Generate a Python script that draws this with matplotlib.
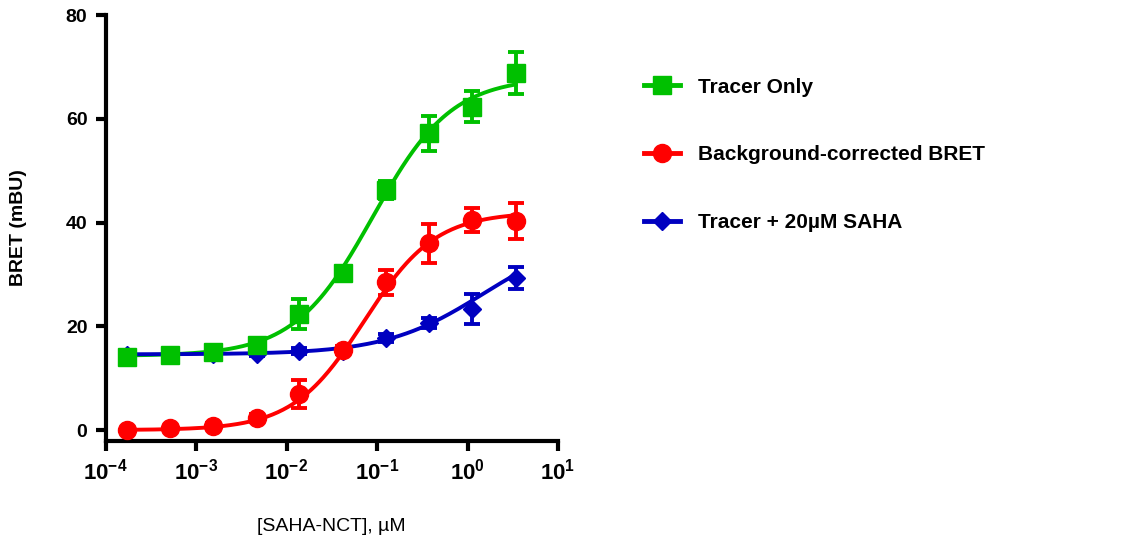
import numpy as np
import matplotlib
matplotlib.use("Agg")
import matplotlib.pyplot as plt
from matplotlib.lines import Line2D

plt.rcParams['font.family'] = ['Liberation Sans', 'DejaVu Sans']
plt.rcParams['mathtext.fontset'] = 'custom'
plt.rcParams['mathtext.bf'] = 'Liberation Sans:bold'
plt.rcParams['mathtext.rm'] = 'Liberation Sans'

# concentrations (uM), 3-fold dilution series
conc = [0.000173, 0.000518, 0.00155, 0.00466, 0.0139, 0.042, 0.126, 0.378, 1.13, 3.4]

tracer_only = [14.1, 14.5, 15.0, 16.4, 22.4, 30.3, 46.3, 57.2, 62.3, 68.8]
tracer_only_err = [0.6, 0.6, 0.8, 1.0, 2.9, 1.2, 1.8, 3.4, 3.0, 4.0]

bg_corrected = [0.0, 0.4, 0.8, 2.3, 6.9, 15.4, 28.5, 36.0, 40.5, 40.3]
bg_corrected_err = [0.4, 0.4, 0.5, 0.8, 2.7, 0.8, 2.4, 3.7, 2.3, 3.5]

tracer_saha = [14.5, 14.5, 14.6, 14.6, 15.2, 15.3, 17.7, 20.6, 23.3, 29.3]
tracer_saha_err = [0.4, 0.4, 0.4, 0.4, 0.6, 0.6, 0.8, 1.0, 2.9, 2.2]

# sigmoidal dose-response fit parameters: bottom, top, EC50 (uM), hill slope
fit_tracer_only = (14.3, 68.0, 0.09, 1.0)
fit_bg_corrected = (0.0, 42.0, 0.072, 1.1)
fit_tracer_saha = (14.6, 38.0, 1.5, 0.8)

labels = ['Tracer Only', 'Background-corrected BRET', 'Tracer + 20\u00b5M SAHA']
colors = ['#00c000', '#ff0000', '#0000c0']
markers = ['s', 'o', 'D']
msizes = [13, 13, 9]
zorders = [5, 4, 3]

series = [(tracer_only, tracer_only_err, fit_tracer_only),
          (bg_corrected, bg_corrected_err, fit_bg_corrected),
          (tracer_saha, tracer_saha_err, fit_tracer_saha)]

def dose_response(x, bottom, top, ec50, hill):
    return bottom + (top - bottom) / (1 + (ec50 / x) ** hill)

fig = plt.figure(figsize=(11.36, 5.46), dpi=100)
ax = fig.add_axes([0.0929, 0.1923, 0.3983, 0.7802])

xs = np.logspace(np.log10(conc[0]), np.log10(conc[-1]), 300)
handles = []
for (vals, errs, fit), c, m, ms, z in zip(series, colors, markers, msizes, zorders):
    ax.plot(xs, dose_response(xs, *fit), color=c, lw=2.8, zorder=2)
    ax.errorbar(conc, vals, yerr=errs, fmt=m, color=c, ms=ms, mec=c,
                elinewidth=2.8, capsize=6, capthick=2.8, zorder=z)
    handles.append(Line2D([], [], color=c, marker=m, ms=ms, lw=3.5))

ax.set_xscale('log')
ax.set_xlim(1e-4, 1e1)
ax.set_ylim(-2.1, 80)
ax.set_yticks([0, 20, 40, 60, 80])
ax.set_yticklabels(['0', '20', '40', '60', '80'], fontweight='bold', fontsize=14)
xt = [1e-4, 1e-3, 1e-2, 1e-1, 1e0, 1e1]
ax.set_xticks(xt)
ax.set_xticklabels([r'$\mathbf{10^{%d}}$' % int(np.log10(v)) for v in xt], fontsize=16)
ax.minorticks_off()

for s in ['top', 'right']:
    ax.spines[s].set_visible(False)
for s in ['left', 'bottom']:
    ax.spines[s].set_linewidth(3)
ax.tick_params(axis='both', width=3, length=7, pad=6)

ax.set_ylabel('BRET (mBU)', fontweight='bold', fontsize=14, labelpad=28)
ax.set_xlabel('[SAHA-NCT], \u00b5M', fontsize=14, labelpad=24)

fig.legend(handles, labels, loc='upper left', bbox_to_anchor=(0.558, 0.877),
           frameon=False, borderpad=0, handlelength=1.7, handletextpad=0.87,
           labelspacing=2.34, prop={'weight': 'bold', 'size': 15})

fig.savefig('out.png', dpi=100)
